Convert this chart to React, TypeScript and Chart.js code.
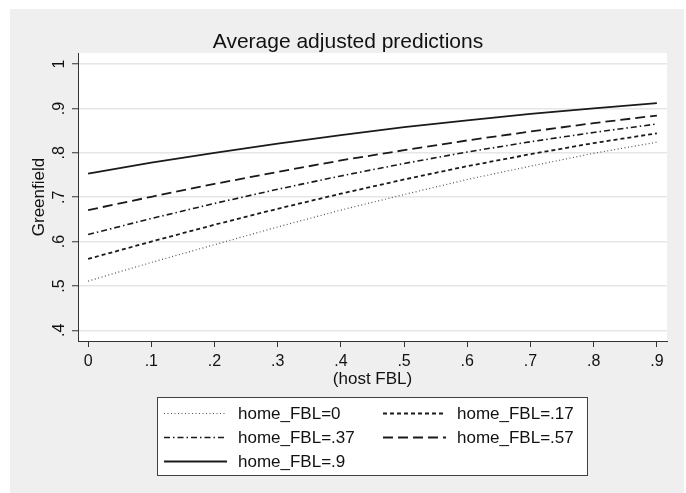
import React, { useEffect, useRef } from 'react';
import { Chart, registerables } from 'chart.js';

Chart.register(...registerables);

const chartTitle = 'Average adjusted predictions';
const xTitle = '(host FBL)';
const yTitle = 'Greenfield';

const hostFBL = [0, 0.1, 0.2, 0.3, 0.4, 0.5, 0.6, 0.7, 0.8, 0.9];

const xTickValues = [0, 0.1, 0.2, 0.3, 0.4, 0.5, 0.6, 0.7, 0.8, 0.9];
const xTickLabels = ['0', '.1', '.2', '.3', '.4', '.5', '.6', '.7', '.8', '.9'];
const yTickValues = [0.4, 0.5, 0.6, 0.7, 0.8, 0.9, 1];
const yTickLabels = ['.4', '.5', '.6', '.7', '.8', '.9', '1'];

const seriesLabels = ['home_FBL=0', 'home_FBL=.17', 'home_FBL=.37', 'home_FBL=.57', 'home_FBL=.9'];

const home0 = [0.511, 0.553, 0.593, 0.633, 0.671, 0.706, 0.740, 0.770, 0.799, 0.824];
const home17 = [0.561, 0.600, 0.638, 0.674, 0.708, 0.740, 0.770, 0.797, 0.822, 0.844];
const home37 = [0.616, 0.652, 0.686, 0.718, 0.748, 0.776, 0.802, 0.825, 0.846, 0.865];
const home57 = [0.671, 0.701, 0.730, 0.757, 0.783, 0.806, 0.828, 0.848, 0.867, 0.884];
const home90 = [0.753, 0.778, 0.800, 0.821, 0.840, 0.858, 0.873, 0.888, 0.900, 0.912];

const FONT = '"Liberation Sans", Arial, Helvetica, sans-serif';

const seriesStyles = [
  { color: '#555555', width: 1.2, dash: [1, 2.5] },
  { color: '#1a1a1a', width: 1.8, dash: [4, 3] },
  { color: '#1a1a1a', width: 1.6, dash: [6, 3, 1.5, 3] },
  { color: '#1a1a1a', width: 1.8, dash: [10, 5] },
  { color: '#1a1a1a', width: 1.8, dash: [] as number[] },
];

const decor = {
  id: 'decor',
  beforeDraw(chart: any) {
    const { ctx, width, height, chartArea: a } = chart;
    ctx.save();
    ctx.fillStyle = '#ffffff';
    ctx.fillRect(0, 0, width, height);
    ctx.fillStyle = '#efefef';
    ctx.fillRect(10, 9, width - 12, height - 9);
    ctx.fillStyle = '#ffffff';
    ctx.fillRect(a.left, a.top, a.right - a.left, a.bottom - a.top);
    ctx.restore();
  },
  afterDraw(chart: any) {
    const { ctx, chartArea: a } = chart;
    const ys = chart.scales.y;
    ctx.save();
    ctx.fillStyle = '#111111';
    ctx.textAlign = 'center';
    ctx.textBaseline = 'middle';

    // title
    ctx.font = `21px ${FONT}`;
    ctx.fillText(chartTitle, 348, 42);

    // y tick labels (rotated)
    ctx.font = `16px ${FONT}`;
    yTickValues.forEach((v, i) => {
      const py = ys.getPixelForValue(v);
      ctx.save();
      ctx.translate(a.left - 19, py);
      ctx.rotate(-Math.PI / 2);
      ctx.fillText(yTickLabels[i], 0, 1);
      ctx.restore();
    });

    // y title
    ctx.font = `17px ${FONT}`;
    ctx.save();
    ctx.translate(39, (a.top + a.bottom) / 2);
    ctx.rotate(-Math.PI / 2);
    ctx.fillText(yTitle, 0, 0);
    ctx.restore();

    // x title
    ctx.fillText(xTitle, (a.left + a.right) / 2, 379);

    // legend
    const bx = 157.5, by = 397.5, bw = 430, bh = 78;
    ctx.fillStyle = '#ffffff';
    ctx.fillRect(bx, by, bw, bh);
    ctx.strokeStyle = '#404040';
    ctx.lineWidth = 1;
    ctx.strokeRect(bx, by, bw, bh);
    ctx.textAlign = 'left';
    ctx.font = `17px ${FONT}`;
    chart.data.datasets.forEach((d: any, i: number) => {
      const col = i % 2;
      const row = Math.floor(i / 2);
      const lx = 164 + col * 219;
      const ty = 413 + row * 24;
      ctx.save();
      ctx.strokeStyle = d.borderColor;
      ctx.lineWidth = d.borderWidth;
      ctx.setLineDash(d.borderDash || []);
      ctx.beginPath();
      ctx.moveTo(lx, ty + 0.5);
      ctx.lineTo(lx + 63, ty + 0.5);
      ctx.stroke();
      ctx.restore();
      ctx.fillStyle = '#111111';
      ctx.fillText(d.label, lx + 74, ty + 1);
    });
    ctx.restore();
  },
};

export default function App() {
  const ref = useRef<HTMLCanvasElement>(null);

  useEffect(() => {
    const allSeries = [home0, home17, home37, home57, home90];
    const datasets = allSeries.map((vals, i) => ({
      label: seriesLabels[i],
      data: hostFBL.map((x, j) => ({ x, y: vals[j] })),
      borderColor: seriesStyles[i].color,
      borderWidth: seriesStyles[i].width,
      borderDash: seriesStyles[i].dash,
      pointRadius: 0,
      tension: 0,
      fill: false,
    }));

    const chart = new Chart(ref.current as HTMLCanvasElement, {
      type: 'line',
      data: { datasets },
      plugins: [decor],
      options: {
        animation: false,
        responsive: false,
        devicePixelRatio: 1,
        layout: { padding: { left: 8, right: 19, top: 53, bottom: 92 } },
        plugins: {
          legend: { display: false },
          title: { display: false },
          tooltip: { enabled: false },
        },
        scales: {
          x: {
            type: 'linear',
            min: -0.016,
            max: 0.916,
            afterBuildTicks: (s: any) => {
              s.ticks = xTickValues.map((v) => ({ value: v }));
            },
            afterFit: (s: any) => {
              s.height = 60;
            },
            ticks: {
              font: { size: 16, family: FONT },
              color: '#111111',
              padding: 5,
              maxRotation: 0,
              minRotation: 0,
              autoSkip: false,
              callback: (_v: any, i: number) => xTickLabels[i],
            },
            grid: {
              display: true,
              drawOnChartArea: false,
              drawTicks: true,
              tickLength: 6,
              tickColor: '#333333',
              tickWidth: 1,
            },
            border: { display: true, color: '#333333', width: 1 },
          },
          y: {
            type: 'linear',
            min: 0.376,
            max: 1.025,
            afterBuildTicks: (s: any) => {
              s.ticks = yTickValues.map((v) => ({ value: v }));
            },
            afterFit: (s: any) => {
              s.width = 70;
            },
            ticks: { display: false },
            grid: {
              color: '#e6e6e6',
              lineWidth: 1.5,
              drawTicks: true,
              tickLength: 6,
              tickColor: '#333333',
              tickWidth: 1,
            },
            border: { display: true, color: '#333333', width: 1 },
          },
        },
      } as any,
    });
    return () => chart.destroy();
  }, []);

  return (
    <div style={{ position: 'fixed', left: 0, top: 0, width: 686, height: 493 }}>
      <canvas ref={ref} width={686} height={493} style={{ display: 'block', width: 686, height: 493 }} />
    </div>
  );
}
